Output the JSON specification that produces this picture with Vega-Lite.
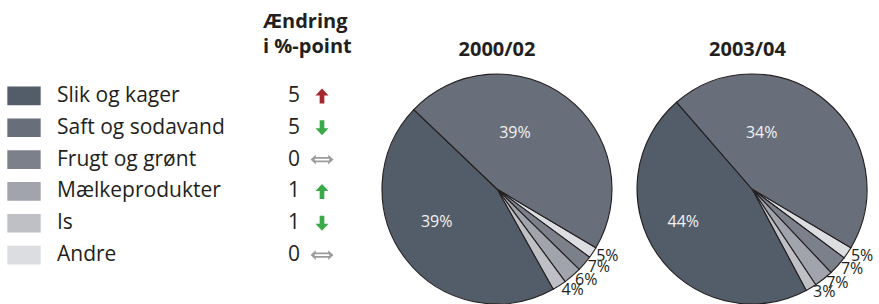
{
  "$schema": "https://vega.github.io/schema/vega-lite/v6.json",
  "padding": 0,
  "spacing": 0,
  "background": "white",
  "config": {"view": {"stroke": null}, "font": "Open Sans", "concat": {"spacing": 0}},
  "datasets": {
    "kategorier": [
      {"kategori": "Slik og kager", "endring": 5, "retning": "op", "vurdering": "ugunstig"},
      {"kategori": "Saft og sodavand", "endring": 5, "retning": "ned", "vurdering": "gunstig"},
      {"kategori": "Frugt og grønt", "endring": 0, "retning": "uændret", "vurdering": "neutral"},
      {"kategori": "Mælkeprodukter", "endring": 1, "retning": "op", "vurdering": "gunstig"},
      {"kategori": "Is", "endring": 1, "retning": "ned", "vurdering": "gunstig"},
      {"kategori": "Andre", "endring": 0, "retning": "uændret", "vurdering": "neutral"}
    ],
    "perioder": [{"periode": "2000/02"}, {"periode": "2003/04"}],
    "andele": [
      {"periode": "2000/02", "kategori": "Andre", "andel": 0.05, "tegnet": 1.58, "plads": 1},
      {"periode": "2000/02", "kategori": "Frugt og grønt", "andel": 0.07, "tegnet": 2.22, "plads": 2},
      {"periode": "2000/02", "kategori": "Mælkeprodukter", "andel": 0.06, "tegnet": 2.58, "plads": 3},
      {"periode": "2000/02", "kategori": "Is", "andel": 0.04, "tegnet": 1.97, "plads": 4},
      {"periode": "2000/02", "kategori": "Slik og kager", "andel": 0.39, "tegnet": 45.25, "plads": 5},
      {"periode": "2000/02", "kategori": "Saft og sodavand", "andel": 0.39, "tegnet": 46.40, "plads": 6},
      {"periode": "2003/04", "kategori": "Andre", "andel": 0.05, "tegnet": 1.69, "plads": 1},
      {"periode": "2003/04", "kategori": "Frugt og grønt", "andel": 0.07, "tegnet": 2.72, "plads": 2},
      {"periode": "2003/04", "kategori": "Mælkeprodukter", "andel": 0.07, "tegnet": 2.72, "plads": 3},
      {"periode": "2003/04", "kategori": "Is", "andel": 0.03, "tegnet": 1.53, "plads": 4},
      {"periode": "2003/04", "kategori": "Slik og kager", "andel": 0.44, "tegnet": 46.42, "plads": 5},
      {"periode": "2003/04", "kategori": "Saft og sodavand", "andel": 0.34, "tegnet": 44.92, "plads": 6}
    ]
  },
  "hconcat": [
    {
      "spacing": 0,
      "bounds": "flush",
      "vconcat": [
        {
          "width": 369,
          "height": 80,
          "data": {"values": [{}]},
          "mark": {"type": "text", "text": ["Ændring", "i %-point"], "align": "left", "baseline": "alphabetic", "dx": 78.5, "dy": -12, "lineHeight": 25, "fontSize": 20, "fontWeight": "bold", "color": "#231f20"}
        },
        {
          "width": 369,
          "height": 191,
          "data": {"name": "kategorier"},
          "encoding": {"y": {"field": "kategori", "type": "nominal", "sort": null, "axis": null}},
          "layer": [
            {
              "mark": {"type": "point", "shape": "M-1,-0.56L1,-0.56L1,0.56L-1,0.56Z", "filled": true, "opacity": 1, "size": 1111, "strokeWidth": 0},
              "encoding": {
                "x": {"datum": 24, "type": "quantitative", "scale": {"domain": [0, 369], "nice": false, "zero": false}, "axis": null},
                "color": {"field": "kategori", "type": "nominal", "legend": null,
                  "scale": {"domain": ["Slik og kager", "Saft og sodavand", "Frugt og grønt", "Mælkeprodukter", "Is", "Andre"],
                            "range": ["#535d6a", "#686e7a", "#7c808b", "#a1a4ac", "#bfc0c5", "#dcdde0"]}}
              }
            },
            {
              "mark": {"type": "text", "align": "left", "fontSize": 21, "color": "#231f20"},
              "encoding": {"x": {"datum": 57, "type": "quantitative"}, "text": {"field": "kategori"}}
            },
            {
              "mark": {"type": "text", "align": "center", "fontSize": 21, "color": "#231f20"},
              "encoding": {"x": {"datum": 294, "type": "quantitative"}, "text": {"field": "endring", "type": "quantitative"}}
            },
            {
              "mark": {"type": "point", "filled": true, "opacity": 1, "size": 676, "strokeWidth": 0},
              "encoding": {
                "x": {"datum": 322, "type": "quantitative"},
                "shape": {"field": "retning", "type": "nominal", "legend": null,
                  "scale": {"domain": ["op", "ned", "uændret"],
                            "range": ["M0,-0.58L0.5,-0.04L0.18,-0.04L0.18,0.58L-0.18,0.58L-0.18,-0.04L-0.5,-0.04Z",
                                      "M0,0.58L0.5,0.04L0.18,0.04L0.18,-0.58L-0.18,-0.58L-0.18,0.04L-0.5,0.04Z",
                                      "M-0.88,0L-0.48,-0.38L-0.48,-0.2L0.48,-0.2L0.48,-0.38L0.88,0L0.48,0.38L0.48,0.2L-0.48,0.2L-0.48,0.38Z M-0.56,-0.07L-0.56,0.07L0.56,0.07L0.56,-0.07Z"]}},
                "fill": {"field": "vurdering", "type": "nominal", "legend": null,
                  "scale": {"domain": ["ugunstig", "gunstig", "neutral"], "range": ["#a4282b", "#3aaa48", "#9b9b9b"]}}
              }
            }
          ]
        }
      ]
    },
    {
      "spacing": 0,
      "bounds": "flush",
      "vconcat": [
        {
          "width": 256,
          "height": 74,
          "data": {"name": "perioder"},
          "transform": [{"filter": "datum.periode === '2000/02'"}],
          "mark": {"type": "text", "align": "center", "baseline": "alphabetic", "dy": 19, "fontSize": 20, "fontWeight": "bold", "color": "#231f20"},
          "encoding": {"text": {"field": "periode"}}
        },
        {
          "width": 256,
          "height": 230,
          "data": {"name": "andele"},
          "transform": [{"filter": "datum.periode === '2000/02'"}],
          "encoding": {
            "theta": {"field": "tegnet", "type": "quantitative", "stack": true, "scale": {"domain": [0, 100], "range": [2.1066, 8.3898]}},
            "order": {"field": "plads", "type": "quantitative"}
          },
          "layer": [
            {
              "mark": {"type": "arc", "radius": 115, "stroke": "#231f20", "strokeWidth": 1.1},
              "encoding": {"color": {"field": "kategori", "type": "nominal", "legend": null,
                "scale": {"domain": ["Slik og kager", "Saft og sodavand", "Frugt og grønt", "Mælkeprodukter", "Is", "Andre"],
                          "range": ["#535d6a", "#686e7a", "#7c808b", "#a1a4ac", "#bfc0c5", "#dcdde0"]}}}
            },
            {
              "mark": {"type": "text", "radius": 60, "dx": -18.3, "dy": -8.2, "fontSize": 16, "color": "#f2f2f2"},
              "encoding": {"text": {"field": "andel", "type": "quantitative", "format": ".0%", "condition": {"test": "datum.kategori !== 'Saft og sodavand'", "value": ""}}}
            },
            {
              "mark": {"type": "text", "radius": 60, "dx": -12.9, "dy": -3.5, "fontSize": 16, "color": "#f2f2f2"},
              "encoding": {"text": {"field": "andel", "type": "quantitative", "format": ".0%", "condition": {"test": "datum.kategori !== 'Slik og kager'", "value": ""}}}
            },
            {
              "mark": {"type": "text", "radius": 119, "align": "left", "dy": 1, "fontSize": 16, "color": "#231f20"},
              "encoding": {"text": {"field": "andel", "type": "quantitative", "format": ".0%", "condition": {"test": "datum.plads > 4", "value": ""}}}
            }
          ]
        }
      ]
    },
    {
      "spacing": 0,
      "bounds": "flush",
      "vconcat": [
        {
          "width": 254,
          "height": 74,
          "data": {"name": "perioder"},
          "transform": [{"filter": "datum.periode === '2003/04'"}],
          "mark": {"type": "text", "align": "center", "baseline": "alphabetic", "dx": -4.5, "dy": 19, "fontSize": 20, "fontWeight": "bold", "color": "#231f20"},
          "encoding": {"text": {"field": "periode"}}
        },
        {
          "width": 254,
          "height": 230,
          "data": {"name": "andele"},
          "transform": [{"filter": "datum.periode === '2003/04'"}],
          "encoding": {
            "theta": {"field": "tegnet", "type": "quantitative", "stack": true, "scale": {"domain": [0, 100], "range": [2.1066, 8.3898]}},
            "order": {"field": "plads", "type": "quantitative"}
          },
          "layer": [
            {
              "mark": {"type": "arc", "radius": 115, "stroke": "#231f20", "strokeWidth": 1.1},
              "encoding": {"color": {"field": "kategori", "type": "nominal", "legend": null,
                "scale": {"domain": ["Slik og kager", "Saft og sodavand", "Frugt og grønt", "Mælkeprodukter", "Is", "Andre"],
                          "range": ["#535d6a", "#686e7a", "#7c808b", "#a1a4ac", "#bfc0c5", "#dcdde0"]}}}
            },
            {
              "mark": {"type": "text", "radius": 60, "dx": -28.7, "dy": -9.6, "fontSize": 16, "color": "#f2f2f2"},
              "encoding": {"text": {"field": "andel", "type": "quantitative", "format": ".0%", "condition": {"test": "datum.kategori !== 'Saft og sodavand'", "value": ""}}}
            },
            {
              "mark": {"type": "text", "radius": 60, "dx": -19.3, "dy": -1.4, "fontSize": 16, "color": "#f2f2f2"},
              "encoding": {"text": {"field": "andel", "type": "quantitative", "format": ".0%", "condition": {"test": "datum.kategori !== 'Slik og kager'", "value": ""}}}
            },
            {
              "mark": {"type": "text", "radius": 119, "align": "left", "dy": 1, "fontSize": 16, "color": "#231f20"},
              "encoding": {"text": {"field": "andel", "type": "quantitative", "format": ".0%", "condition": {"test": "datum.plads > 4", "value": ""}}}
            }
          ]
        }
      ]
    }
  ]
}
